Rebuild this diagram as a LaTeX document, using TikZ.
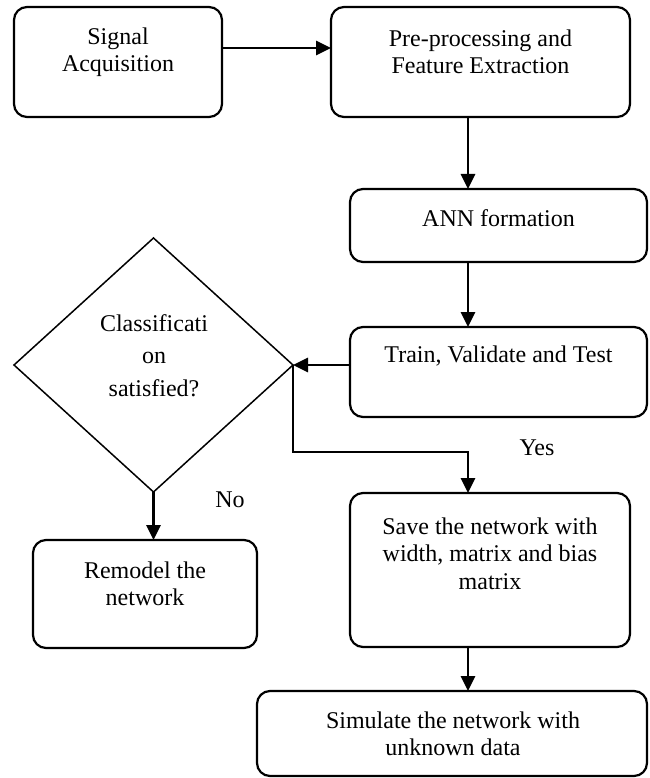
\documentclass[tikz,border=0pt]{standalone}
\usepackage{fontspec}
\setmainfont{Liberation Serif}
\usetikzlibrary{arrows.meta,shapes.geometric}
\begin{document}
\begin{tikzpicture}[x=1pt,y=-1pt,
  box/.style={draw, line width=2.2pt, rounded corners=13pt, inner sep=0pt, outer sep=0pt},
  txt/.style={align=center, font=\fontsize{24}{27.5}\selectfont, inner sep=0pt},
  conn/.style={line width=2.9pt, -{Triangle[length=15pt,width=14pt]}},
  thinconn/.style={line width=1.7pt}]
\useasboundingbox (0,0) rectangle (649,778);
% boxes
\node[box, minimum width=208pt, minimum height=110pt] (sig) at (118,62) {};
\node[box, minimum width=299pt, minimum height=110pt] (pre) at (480.5,62) {};
\node[box, minimum width=297pt, minimum height=73pt] (ann) at (498.5,225.5) {};
\node[box, minimum width=297pt, minimum height=90pt] (train) at (498.5,372) {};
\node[draw, diamond, line width=1.5pt, minimum width=279pt, minimum height=254pt, inner sep=0pt, outer sep=0pt] (dia) at (153.5,365) {};
\node[box, minimum width=280pt, minimum height=154pt] (save) at (490,570) {};
\node[box, minimum width=224pt, minimum height=108pt] (remodel) at (145,594) {};
\node[box, minimum width=390pt, minimum height=85pt] (sim) at (452,733.5) {};
% texts
\node[txt] (sigt) at (118,52) {Signal\\Acquisition};
\node[txt] (pret) at (480.5,52) {Pre-processing and\\Feature Extraction};
\node[txt] (annt) at (498.5,218) {ANN formation};
\node[txt] (traint) at (498.5,356) {Train, Validate and Test};
\node[txt, font=\fontsize{24}{32.5}\selectfont] (diat) at (154,355.5) {Classificati\\on\\satisfied?};
\node[txt] (savet) at (490,553.5) {Save the network with\\width, matrix and bias\\matrix};
\node[txt] (remodelt) at (145,584) {Remodel the\\network};
\node[txt] (simt) at (453,734) {Simulate the network with\\unknown data};
\node[txt] (yes) at (537,448) {Yes};
\node[txt] (no) at (230,500) {No};
% helper coordinates
\coordinate (colx) at (468,0);
\coordinate (yesturn) at (468,452);
% connectors
\draw[conn] ([yshift=14pt]sig.east) -- ([yshift=14pt]pre.west);
\draw[conn] (pre.south -| colx) -- (ann.north -| colx);
\draw[conn] (ann.south -| colx) -- (train.north -| colx);
\draw[conn] (train.west |- dia.east) -- (dia.east);
\draw[thinconn] (dia.east) |- (yesturn);
\draw[conn] ([yshift=0.85pt]yesturn) -- (save.north -| colx);
\draw[conn] (dia.south) -- (remodel.north -| dia.south);
\draw[conn] (save.south -| colx) -- (sim.north -| colx);
\end{tikzpicture}
\end{document}
